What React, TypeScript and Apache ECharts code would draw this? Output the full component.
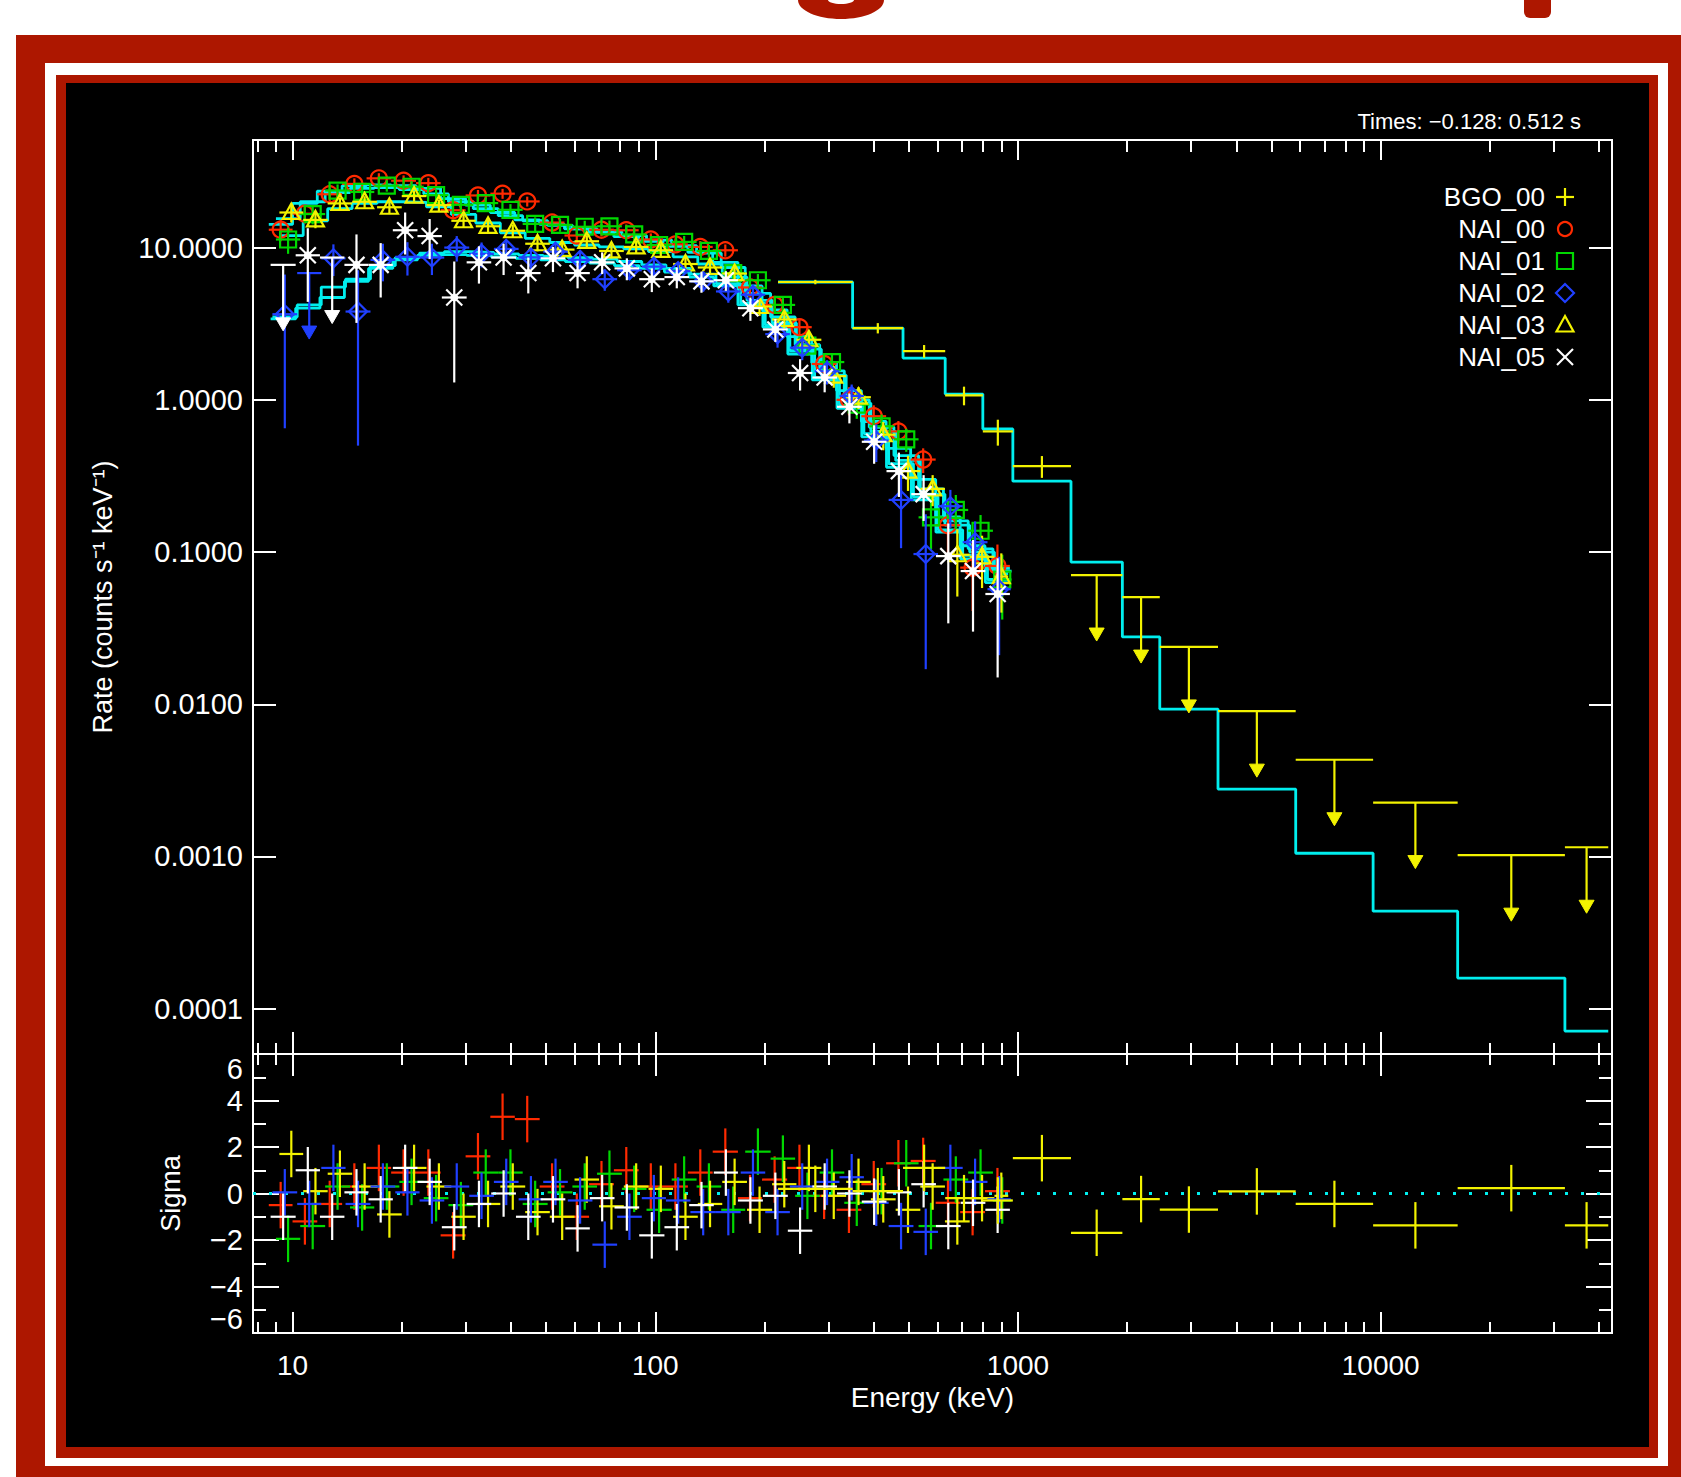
import React, { useEffect, useRef } from "react";
import * as echarts from "echarts";

// ---------------- data ----------------
const DETECTOR_NAMES = ["BGO_00", "NAI_00", "NAI_01", "NAI_02", "NAI_03", "NAI_05"];
const TIME_LABEL = "Times: −0.128: 0.512 s";
const X_AXIS_NAME = "Energy (keV)";
const RATE_AXIS_NAME = "Rate (counts s⁻¹ keV⁻¹)";
const SIGMA_AXIS_NAME = "Sigma";

const ENERGY_MIN = 7.78;
const ENERGY_MAX = 43420;
const RATE_MIN = 5.04e-5;
const RATE_MAX = 50.9;
const SIGMA_MIN = -6;
const SIGMA_MAX = 6;
const SIGMA_STEP = 2;

const ENERGY_MAJOR_TICKS = [10, 100, 1000, 10000];
const ENERGY_MINOR_TICKS = [8, 9, 20, 30, 40, 50, 60, 70, 80, 90, 200, 300, 400, 500, 600, 700, 800, 900,
  2000, 3000, 4000, 5000, 6000, 7000, 8000, 9000, 20000, 30000, 40000];
const RATE_TICKS = [0.0001, 0.001, 0.01, 0.1, 1, 10];

// BGO_00
const BGO_EDGES = [218, 350, 482, 630, 800, 968, 1400, 1940, 2460, 3560, 5830, 9530, 16300, 32200, 42400];
const BGO_RATE = [5.94, 2.96, 2.09, 1.07, 0.62, 0.367, 0.0706, 0.0506, 0.0238, 0.00901, 0.00432, 0.00226, 0.00102, 0.00115];
const BGO_ERR = [0.2, 0.23, 0.2, 0.15, 0.12, 0.06, 0, 0, 0, 0, 0, 0, 0, 0];
const BGO_MODEL = [5.94, 2.96, 1.88, 1.09, 0.643, 0.292, 0.0859, 0.0277, 0.00929, 0.00277, 0.00105, 0.000437, 0.000159, 0.0000713];
const BGO_RESID = [0.2, 0.1, 1.1, -0.2, -0.3, 1.52, -1.69, -0.24, -0.69, 0.09, -0.45, -1.37, 0.23, -1.37];
const BGO_UPPER_LIMITS = [6, 7, 8, 9, 10, 11, 12, 13];

// NAI_00
const NAI00_EDGES = [8.6, 10.0, 11.7, 13.7, 16.0, 18.7, 21.9, 25.6, 30.0, 35.1, 41.0, 48.0, 56.2, 65.7, 76.9, 90.0, 105, 123, 144, 169, 197, 231, 270, 316, 370, 433, 506, 593, 693, 811, 950];
const NAI00_RATE = [13.1, 16.7, 22.4, 26.2, 28.5, 27.5, 26.5, 17.6, 22.0, 22.6, 20.1, 14.6, 12.0, 13.1, 13.0, 11.3, 10.5, 10.1, 9.6, 5.47, 4.2, 3.0, 1.72, 1.0, 0.78, 0.62, 0.405, 0.15, 0.079, 0.081];
const NAI00_ERR = [2.1, 2.3, 2.35, 2.3, 2.3, 2.3, 2.2, 1.9, 1.9, 1.7, 1.5, 1.4, 1.3, 1.26, 1.18, 1.1, 1.0, 0.93, 0.88, 0.67, 0.5, 0.36, 0.28, 0.21, 0.14, 0.105, 0.075, 0.051, 0.038, 0.031];
const NAI00_MODEL = [14.2, 19.5, 23.5, 25.5, 25.8, 25.5, 24.5, 21.0, 19.0, 17.0, 15.2, 14.2, 13.3, 12.6, 11.8, 11.0, 10.2, 9.3, 8.0, 5.6, 3.9, 2.6, 1.75, 1.15, 0.72, 0.48, 0.3, 0.17, 0.11, 0.078];
const NAI00_RESID = [-0.5, -1.2, -0.45, 0.3, 1.1, 0.9, 0.9, -1.8, 1.6, 3.3, 3.2, 0.3, -1.0, 0.4, 1.0, 0.3, 0.3, 0.9, 1.8, -0.2, 0.6, 1.1, -0.1, -0.7, 0.4, 1.3, 1.4, -0.4, -0.8, 0.1];
const NAI00_UPPER_LIMITS: number[] = [];

// NAI_01
const NAI01_EDGES = [9.0, 10.5, 12.3, 14.4, 16.8, 19.7, 23.0, 26.9, 31.5, 36.9, 43.1, 50.5, 59.1, 69.1, 80.9, 94.6, 111, 130, 152, 177, 208, 243, 284, 332, 389, 455, 532, 623, 729, 853, 960];
const NAI01_RATE = [11.3, 16.6, 23.7, 23.2, 25.5, 25.1, 22.1, 19.1, 19.6, 17.7, 14.3, 14.1, 13.7, 13.8, 12.2, 10.4, 10.9, 9.5, 6.8, 6.1, 4.2, 2.27, 1.77, 0.93, 0.67, 0.55, 0.169, 0.189, 0.138, 0.066];
const NAI01_ERR = [2.2, 2.4, 2.3, 2.2, 2.2, 2.2, 2.0, 1.8, 1.8, 1.6, 1.5, 1.4, 1.3, 1.27, 1.2, 1.12, 1.03, 0.92, 0.81, 0.6, 0.46, 0.32, 0.25, 0.18, 0.13, 0.095, 0.065, 0.048, 0.037, 0.03];
const NAI01_MODEL = [15.5, 20, 23, 24.5, 24.8, 24, 22.5, 20, 18, 16.2, 15, 14, 13.3, 12.7, 12, 11.2, 10.3, 9.2, 7.4, 5.0, 3.5, 2.3, 1.55, 1.0, 0.66, 0.43, 0.26, 0.16, 0.105, 0.075];
const NAI01_RESID = [-1.95, -1.4, 0.3, -0.6, 0.3, 0.5, -0.2, -0.5, 0.9, 0.9, -0.45, 0.05, 0.3, 0.85, 0.2, -0.7, 0.6, 0.3, -0.7, 1.8, 1.5, -0.1, 0.9, -0.4, 0.1, 1.3, -1.4, 0.6, 0.9, -0.3];
const NAI01_UPPER_LIMITS: number[] = [];

// NAI_02
const NAI02_EDGES = [8.8, 10.3, 12.0, 14.0, 16.4, 19.2, 22.4, 26.2, 30.7, 35.9, 42.0, 49.1, 57.4, 67.1, 78.5, 91.8, 107, 125, 147, 172, 201, 235, 275, 322, 376, 440, 515, 602, 704, 824, 955];
const NAI02_RATE = [3.65, 6.8, 8.5, 3.8, 8.3, 8.7, 8.6, 10.0, 9.1, 9.8, 8.6, 9.4, 8.3, 6.2, 7.1, 7.5, 7.0, 6.0, 5.15, 4.9, 2.7, 2.2, 1.54, 1.06, 0.54, 0.22, 0.097, 0.2, 0.116, 0.057];
const NAI02_ERR = [3.0, 0, 2.0, 3.3, 2.3, 2.15, 2.0, 1.9, 1.7, 1.45, 1.35, 1.25, 1.1, 1.0, 0.97, 0.92, 0.88, 0.87, 0.81, 0.65, 0.5, 0.38, 0.28, 0.2, 0.15, 0.114, 0.08, 0.056, 0.043, 0.036];
const NAI02_MODEL = [3.5, 4.2, 5.5, 6.2, 7.6, 8.6, 9.2, 9.4, 9.3, 9.1, 8.9, 8.8, 8.6, 8.4, 8.1, 7.7, 7.3, 6.7, 5.8, 4.3, 3.1, 2.1, 1.4, 0.92, 0.6, 0.38, 0.23, 0.14, 0.095, 0.066];
const NAI02_RESID = [0.05, -0.45, 1.1, -0.45, 0.3, 0.05, -0.3, 0.3, -0.1, 0.5, -0.25, 0.5, -0.3, -2.2, -1.0, -0.2, -0.3, -0.8, -0.8, 0.9, -0.8, 0.3, 0.5, 0.7, -0.4, -1.4, -1.65, 1.1, 0.5, -0.25];
const NAI02_UPPER_LIMITS = [1];

// NAI_03
const NAI03_EDGES = [9.2, 10.7, 12.5, 14.6, 17.1, 20.0, 23.4, 27.4, 32.0, 37.4, 43.8, 51.2, 59.9, 70.0, 81.9, 95.8, 112, 131, 153, 179, 210, 245, 287, 336, 393, 460, 538, 629, 736, 861, 940];
const NAI03_RATE = [17.0, 15.2, 19.5, 20.0, 18.4, 21.8, 19.0, 15.0, 13.8, 12.9, 10.6, 9.7, 11.0, 9.5, 10.1, 9.6, 7.8, 7.4, 6.75, 4.1, 3.37, 2.48, 1.43, 1.04, 0.59, 0.34, 0.26, 0.096, 0.093, 0.069];
const NAI03_ERR = [2.4, 1.8, 1.8, 1.75, 1.8, 1.8, 1.67, 1.5, 1.45, 1.25, 1.15, 1.08, 1.04, 1.01, 0.98, 0.94, 0.87, 0.78, 0.7, 0.54, 0.42, 0.3, 0.23, 0.17, 0.124, 0.088, 0.06, 0.045, 0.035, 0.029];
const NAI03_MODEL = [12, 15, 18, 19.5, 20, 19.8, 18.5, 16.5, 14.5, 12.5, 11.5, 10.8, 10.4, 10.1, 9.8, 9.4, 8.7, 7.8, 6.4, 4.5, 3.2, 2.15, 1.45, 0.95, 0.62, 0.4, 0.24, 0.15, 0.1, 0.072];
const NAI03_RESID = [1.7, 0.1, 0.85, 0.3, -0.9, 1.1, 0.3, -1.0, -0.45, 0.3, -0.8, -1.0, 0.6, -0.55, 0.3, 0.2, -1.0, -0.45, 0.5, -0.7, 0.4, 1.1, -0.1, 0.5, -0.25, -0.7, 0.3, -1.2, -0.2, -0.1];
const NAI03_UPPER_LIMITS: number[] = [];

// NAI_05
const NAI05_EDGES = [8.7, 10.2, 11.9, 13.9, 16.2, 18.9, 22.1, 25.8, 30.2, 35.3, 41.3, 48.3, 56.5, 66.0, 77.2, 90.3, 106, 124, 145, 169, 198, 232, 271, 317, 371, 434, 508, 594, 695, 813, 950];
const NAI05_RATE = [7.7, 8.9, 8.6, 7.7, 7.7, 13.0, 11.9, 4.7, 8.0, 8.6, 6.8, 8.5, 6.8, 8.0, 7.3, 6.2, 6.4, 6.0, 6.1, 4.0, 2.9, 1.5, 1.4, 0.9, 0.53, 0.34, 0.24, 0.094, 0.075, 0.053];
const NAI05_ERR = [0, 4.5, 0, 4.5, 3.0, 4.0, 3.5, 3.4, 2.2, 2.0, 1.8, 1.6, 1.4, 1.3, 1.2, 1.1, 1.0, 0.95, 0.9, 0.7, 0.5, 0.35, 0.28, 0.2, 0.15, 0.11, 0.08, 0.06, 0.045, 0.038];
const NAI05_MODEL = [3.4, 4.0, 4.7, 6.0, 7.3, 8.3, 8.9, 9.0, 8.9, 8.7, 8.5, 8.3, 8.1, 7.9, 7.6, 7.3, 6.9, 6.4, 5.6, 4.2, 3.0, 2.0, 1.35, 0.88, 0.57, 0.36, 0.22, 0.135, 0.09, 0.063];
const NAI05_RESID = [-1.0, 1.0, -1.0, 0.05, -0.25, 1.1, 0.5, -1.45, -0.45, 0.0, -1.0, -0.25, -1.5, -0.2, -0.6, -1.8, -1.45, -0.5, 0.9, -0.3, -0.1, -1.6, 0.3, 0.0, -0.35, 0.05, 0.4, -1.4, -0.4, -0.7];
const NAI05_UPPER_LIMITS = [0, 2];

// ---------------- styles / layout ----------------
const FONT = '"Liberation Sans", Arial, sans-serif';
const COL = {
  frame: "#ad1700",
  axis: "#ffffff",
  model: "#00eeee",
  yellow: "#f2f200",
  red: "#ff2a00",
  green: "#00d800",
  blue: "#2040ff",
  white: "#ffffff",
};

const DATASETS: Record<string, any> = {
  BGO_00: { edges: BGO_EDGES, rate: BGO_RATE, err: BGO_ERR, model: BGO_MODEL, resid: BGO_RESID, ul: BGO_UPPER_LIMITS, color: COL.yellow, marker: "plus" },
  NAI_00: { edges: NAI00_EDGES, rate: NAI00_RATE, err: NAI00_ERR, model: NAI00_MODEL, resid: NAI00_RESID, ul: NAI00_UPPER_LIMITS, color: COL.red, marker: "circle" },
  NAI_01: { edges: NAI01_EDGES, rate: NAI01_RATE, err: NAI01_ERR, model: NAI01_MODEL, resid: NAI01_RESID, ul: NAI01_UPPER_LIMITS, color: COL.green, marker: "square" },
  NAI_02: { edges: NAI02_EDGES, rate: NAI02_RATE, err: NAI02_ERR, model: NAI02_MODEL, resid: NAI02_RESID, ul: NAI02_UPPER_LIMITS, color: COL.blue, marker: "diamond" },
  NAI_03: { edges: NAI03_EDGES, rate: NAI03_RATE, err: NAI03_ERR, model: NAI03_MODEL, resid: NAI03_RESID, ul: NAI03_UPPER_LIMITS, color: COL.yellow, marker: "triangle" },
  NAI_05: { edges: NAI05_EDGES, rate: NAI05_RATE, err: NAI05_ERR, model: NAI05_MODEL, resid: NAI05_RESID, ul: NAI05_UPPER_LIMITS, color: COL.white, marker: "star" },
};
const DRAW_ORDER = ["NAI_00", "NAI_01", "NAI_03", "NAI_02", "NAI_05", "BGO_00"];
const LEGEND_MARKERS = ["plus", "circle", "square", "diamond", "triangle", "x"];

const UL_LEN = 66;
const LW = 2.2;

function rateRows(d: any) {
  return d.rate.map((r: number, i: number) => [d.edges[i], d.edges[i + 1], r, r - d.err[i], r + d.err[i], d.ul.includes(i) ? 1 : 0]);
}
function residRows(d: any) {
  return d.resid.map((s: number, i: number) => [d.edges[i], d.edges[i + 1], s]);
}
function modelRows(d: any) {
  const pts = d.model.map((m: number, i: number) => [d.edges[i], m]);
  pts.push([d.edges[d.model.length], d.model[d.model.length - 1]]);
  return pts;
}

function markerShapes(kind: string, cx: number, cy: number, color: string, legend = false): any[] {
  const s = { stroke: color, fill: "none", lineWidth: LW };
  const line = (x1: number, y1: number, x2: number, y2: number) => ({ type: "line", shape: { x1, y1, x2, y2 }, style: s });
  switch (kind) {
    case "circle":
      return [{ type: "circle", shape: { cx, cy, r: legend ? 7 : 8 }, style: s }];
    case "square":
      return [{ type: "rect", shape: { x: cx - 8, y: cy - 8, width: 16, height: 16 }, style: s }];
    case "diamond":
      return [{ type: "polygon", shape: { points: [[cx, cy - 9], [cx + 9, cy], [cx, cy + 9], [cx - 9, cy]] }, style: s }];
    case "triangle":
      return [{ type: "polygon", shape: { points: [[cx, cy - 9], [cx + 8.5, cy + 6.5], [cx - 8.5, cy + 6.5]] }, style: s }];
    case "star":
      return [
        line(cx - 8, cy - 8, cx + 8, cy + 8),
        line(cx - 8, cy + 8, cx + 8, cy - 8),
        { type: "circle", shape: { cx, cy, r: 3.5 }, style: { fill: color, stroke: color, lineWidth: 1 } },
      ];
    case "x":
      return [line(cx - 8, cy - 8, cx + 8, cy + 8), line(cx - 8, cy + 8, cx + 8, cy - 8)];
    case "plus":
      return legend ? [line(cx - 9, cy, cx + 9, cy), line(cx, cy - 9, cx, cy + 9)] : [];
    default:
      return [];
  }
}

function rateRender(kind: string, color: string) {
  return (_params: any, api: any) => {
    const e0 = api.value(0), e1 = api.value(1), v = api.value(2), lo = api.value(3), hi = api.value(4), ul = api.value(5);
    const ec = Math.sqrt(e0 * e1);
    const a = api.coord([e0, v]);
    const b = api.coord([e1, v]);
    const c = api.coord([ec, v]);
    const s = { stroke: color, lineWidth: LW };
    const ch: any[] = [{ type: "line", shape: { x1: a[0], y1: a[1], x2: b[0], y2: b[1] }, style: s }];
    if (ul) {
      ch.push({ type: "line", shape: { x1: c[0], y1: c[1], x2: c[0], y2: c[1] + UL_LEN - 8 }, style: s });
      ch.push({
        type: "polygon",
        shape: { points: [[c[0] - 7.5, c[1] + UL_LEN - 13], [c[0] + 7.5, c[1] + UL_LEN - 13], [c[0], c[1] + UL_LEN]] },
        style: { fill: color, stroke: color, lineWidth: 1 },
      });
    } else {
      const p = api.coord([ec, Math.max(lo, RATE_MIN * 1.01)]);
      const q = api.coord([ec, hi]);
      ch.push({ type: "line", shape: { x1: p[0], y1: p[1], x2: q[0], y2: q[1] }, style: s });
      ch.push(...markerShapes(kind, c[0], c[1], color));
    }
    return { type: "group", children: ch };
  };
}

function residRender(color: string) {
  return (_params: any, api: any) => {
    const e0 = api.value(0), e1 = api.value(1), r = api.value(2);
    const ec = Math.sqrt(e0 * e1);
    const a = api.coord([e0, r]);
    const b = api.coord([e1, r]);
    const p = api.coord([ec, r - 1]);
    const q = api.coord([ec, r + 1]);
    const s = { stroke: color, lineWidth: LW };
    return {
      type: "group",
      children: [
        { type: "line", shape: { x1: a[0], y1: a[1], x2: b[0], y2: b[1] }, style: s },
        { type: "line", shape: { x1: p[0], y1: p[1], x2: q[0], y2: q[1] }, style: s },
      ],
    };
  };
}

function xAxisDef(gridIndex: number, position: string, ticks: number[], len: number, extra: any = {}) {
  return {
    type: "log",
    logBase: 10,
    gridIndex,
    position,
    min: ENERGY_MIN,
    max: ENERGY_MAX,
    axisLine: { show: true, onZero: false, lineStyle: { color: COL.axis, width: 2 } },
    axisTick: { show: true, inside: true, length: len, customValues: ticks, lineStyle: { color: COL.axis, width: 2 } },
    axisLabel: { show: false },
    splitLine: { show: false },
    minorTick: { show: false },
    minorSplitLine: { show: false },
    ...extra,
  };
}

function rateAxis(position: string, withLabels: boolean) {
  return {
    type: "log",
    logBase: 10,
    gridIndex: 0,
    position,
    min: RATE_MIN,
    max: RATE_MAX,
    axisLine: { show: true, onZero: false, lineStyle: { color: COL.axis, width: 2 } },
    axisTick: { show: true, inside: true, length: 23, customValues: RATE_TICKS, lineStyle: { color: COL.axis, width: 2 } },
    axisLabel: withLabels
      ? { show: true, customValues: RATE_TICKS, color: "#fff", fontSize: 29, fontFamily: FONT, margin: 10, formatter: (v: number) => Number(v).toFixed(4) }
      : { show: false },
    splitLine: { show: false },
    minorTick: { show: false },
    ...(withLabels
      ? {
          name: RATE_AXIS_NAME,
          nameLocation: "middle",
          nameGap: 137,
          nameRotate: 90,
          nameTextStyle: { color: "#fff", fontSize: 27, fontFamily: FONT },
        }
      : {}),
  };
}

function sigmaAxis(position: string, withLabels: boolean) {
  return {
    type: "value",
    gridIndex: 1,
    position,
    min: SIGMA_MIN,
    max: SIGMA_MAX,
    interval: SIGMA_STEP,
    axisLine: { show: true, onZero: false, lineStyle: { color: COL.axis, width: 2 } },
    axisTick: { show: true, inside: true, length: 26, lineStyle: { color: COL.axis, width: 2 } },
    minorTick: { show: true, splitNumber: 2, length: 13, lineStyle: { color: COL.axis, width: 2 } },
    splitLine: { show: false },
    minorSplitLine: { show: false },
    axisLabel: withLabels
      ? {
          show: true,
          color: "#fff",
          fontSize: 29,
          fontFamily: FONT,
          margin: 10,
          formatter: (v: number) => (v < 0 ? "−" + Math.abs(v) : String(v)),
          verticalAlignMinLabel: "bottom",
          verticalAlignMaxLabel: "top",
        }
      : { show: false },
    ...(withLabels
      ? {
          name: SIGMA_AXIS_NAME,
          nameLocation: "middle",
          nameGap: 69,
          nameRotate: 90,
          nameTextStyle: { color: "#fff", fontSize: 27, fontFamily: FONT },
        }
      : {}),
  };
}

function buildOption() {
  const series: any[] = [];
  DRAW_ORDER.forEach((name) => {
    const d = DATASETS[name];
    series.push({
      type: "line",
      name: name + " model",
      xAxisIndex: 0,
      yAxisIndex: 0,
      data: modelRows(d),
      step: "end",
      symbol: "none",
      showSymbol: false,
      silent: true,
      lineStyle: { color: COL.model, width: 2.8 },
      z: 2,
    });
  });
  DRAW_ORDER.forEach((name) => {
    const d = DATASETS[name];
    series.push({
      type: "custom",
      name,
      xAxisIndex: 0,
      yAxisIndex: 0,
      data: rateRows(d),
      encode: { x: [0, 1], y: 2 },
      renderItem: rateRender(d.marker, d.color),
      silent: true,
      z: 3,
    });
  });
  series.push({
    type: "line",
    name: "zero",
    xAxisIndex: 4,
    yAxisIndex: 2,
    data: [[ENERGY_MIN, 0], [ENERGY_MAX, 0]],
    symbol: "none",
    silent: true,
    lineStyle: { color: COL.model, width: 3, type: [3, 13] },
    z: 2,
  });
  DRAW_ORDER.forEach((name) => {
    const d = DATASETS[name];
    series.push({
      type: "custom",
      name: name + " residual",
      xAxisIndex: 4,
      yAxisIndex: 2,
      data: residRows(d),
      encode: { x: [0, 1], y: 2 },
      renderItem: residRender(d.color),
      silent: true,
      z: 3,
    });
  });

  const legendY = [197, 229, 261, 293, 325, 357];
  const graphics: any[] = [
    { type: "rect", z: -10, shape: { x: 16, y: 35, width: 1665, height: 1442 }, style: { fill: COL.frame } },
    { type: "rect", z: -9, shape: { x: 45, y: 63, width: 1623, height: 1403 }, style: { fill: "#ffffff" } },
    { type: "rect", z: -8, shape: { x: 56, y: 75, width: 1602, height: 1383 }, style: { fill: COL.frame } },
    { type: "rect", z: -7, shape: { x: 66, y: 83, width: 1583, height: 1364 }, style: { fill: "#000000" } },
    { type: "ellipse", z: -6, shape: { cx: 841, cy: 0, rx: 43, ry: 19 }, style: { fill: COL.frame } },
    { type: "ellipse", z: -5, shape: { cx: 841, cy: 0, rx: 13, ry: 4 }, style: { fill: "#ffffff" } },
    { type: "rect", z: -6, shape: { x: 1524, y: -6, width: 27, height: 24, r: [0, 0, 6, 6] }, style: { fill: COL.frame } },
    {
      type: "text",
      z: 10,
      style: {
        text: TIME_LABEL, x: 1581, y: 121, fill: "#fff", font: `22px ${FONT}`,
        textAlign: "right", textVerticalAlign: "middle", align: "right", verticalAlign: "middle",
      },
    },
  ];
  DETECTOR_NAMES.forEach((name, i) => {
    const y = legendY[i];
    graphics.push({
      type: "text",
      z: 10,
      style: {
        text: name, x: 1545, y, fill: "#fff", font: `26px ${FONT}`,
        textAlign: "right", textVerticalAlign: "middle", align: "right", verticalAlign: "middle",
      },
    });
    markerShapes(LEGEND_MARKERS[i], 1565, y, DATASETS[name].color, true).forEach((sh) => graphics.push({ ...sh, z: 10 }));
  });

  return {
    animation: false,
    backgroundColor: "#ffffff",
    grid: [
      { left: 253, top: 140, width: 1359, height: 914, containLabel: false, outerBoundsMode: "none" },
      { left: 253, top: 1054, width: 1359, height: 279, containLabel: false, outerBoundsMode: "none" },
    ],
    xAxis: [
      xAxisDef(0, "bottom", ENERGY_MAJOR_TICKS, 22),
      xAxisDef(0, "bottom", ENERGY_MINOR_TICKS, 11),
      xAxisDef(0, "top", ENERGY_MAJOR_TICKS, 20),
      xAxisDef(0, "top", ENERGY_MINOR_TICKS, 12),
      xAxisDef(1, "bottom", ENERGY_MAJOR_TICKS, 21, {
        axisLabel: {
          show: true, customValues: ENERGY_MAJOR_TICKS, color: "#fff", fontSize: 28, fontFamily: FONT, margin: 18,
          formatter: (v: number) => String(Math.round(v)),
        },
        name: X_AXIS_NAME,
        nameLocation: "middle",
        nameGap: 50,
        nameTextStyle: { color: "#fff", fontSize: 28, fontFamily: FONT },
      }),
      xAxisDef(1, "bottom", ENERGY_MINOR_TICKS, 11),
      xAxisDef(1, "top", ENERGY_MAJOR_TICKS, 22),
      xAxisDef(1, "top", ENERGY_MINOR_TICKS, 11),
    ],
    yAxis: [rateAxis("left", true), rateAxis("right", false), sigmaAxis("left", true), sigmaAxis("right", false)],
    graphic: { elements: graphics },
    series,
  };
}

export default function App() {
  const ref = useRef<HTMLDivElement>(null);
  useEffect(() => {
    document.body.style.margin = "0";
    if (!ref.current) return;
    const chart = echarts.init(ref.current, undefined, { renderer: "svg" });
    chart.setOption(buildOption() as any);
    return () => chart.dispose();
  }, []);
  return <div ref={ref} style={{ width: 1681, height: 1477 }} />;
}
